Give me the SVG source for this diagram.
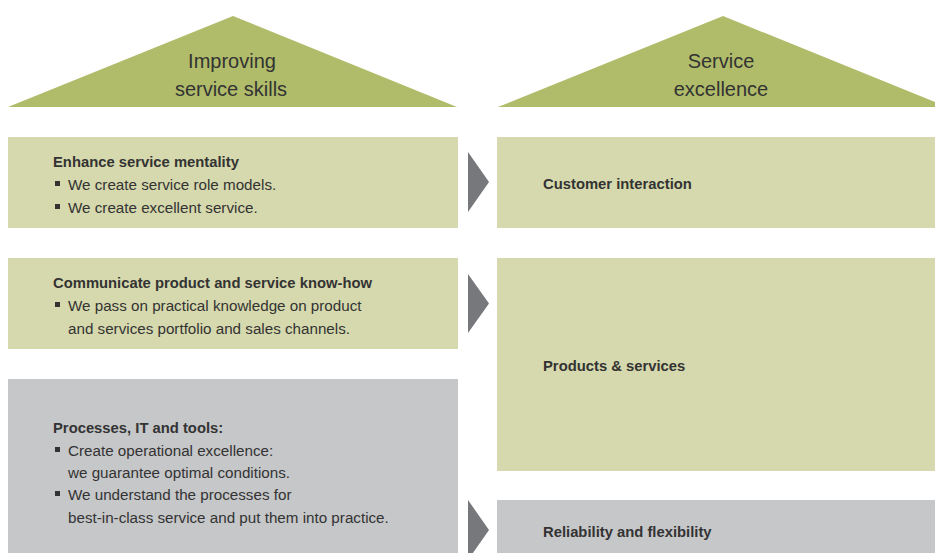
<svg xmlns="http://www.w3.org/2000/svg" width="935" height="553" viewBox="0 0 935 553">
<style>
.roof{fill:#b0bc6a}
.g{fill:#d6d9ad}
.gr{fill:#c6c7c9}
.arr{fill:#77787b}
.t{font-family:"Liberation Sans",Arial,sans-serif;fill:#333333}
.title{font-size:20px;text-anchor:middle;font-weight:300}
.h{font-size:14.8px;font-weight:bold}
.b{font-size:15.2px}
.bul{fill:#333333}
</style>
<g id="roof-left">
<polygon class="roof" points="8,107 233,16 457,107"/>
<text class="t title" x="232" y="68">Improving</text>
<text class="t title" x="231" y="96">service skills</text>
</g>
<g id="roof-right">
<polygon class="roof" points="498,107 723,16 935,102 935,107"/>
<text class="t title" x="721" y="68">Service</text>
<text class="t title" x="721" y="96">excellence</text>
</g>
<g id="box-mentality">
<rect class="g" x="8" y="137" width="450" height="91"/>
<text class="t h" x="53" y="167">Enhance service mentality</text>
<rect class="bul" x="55" y="181" width="5" height="5"/>
<text class="t b" x="68" y="190">We create service role models.</text>
<rect class="bul" x="55" y="204" width="5" height="5"/>
<text class="t b" x="68" y="213">We create excellent service.</text>
</g>
<g id="box-knowhow">
<rect class="g" x="8" y="258" width="450" height="91"/>
<text class="t h" x="53" y="288">Communicate product and service know-how</text>
<rect class="bul" x="55" y="302" width="5" height="5"/>
<text class="t b" x="68" y="311">We pass on practical knowledge on product</text>
<text class="t b" x="68" y="334">and services portfolio and sales channels.</text>
</g>
<g id="box-processes">
<rect class="gr" x="8" y="379" width="450" height="174"/>
<text class="t h" x="53" y="433">Processes, IT and tools:</text>
<rect class="bul" x="55" y="447" width="5" height="5"/>
<text class="t b" x="68" y="456">Create operational excellence:</text>
<text class="t b" x="68" y="478">we guarantee optimal conditions.</text>
<rect class="bul" x="55" y="491" width="5" height="5"/>
<text class="t b" x="68" y="500">We understand the processes for</text>
<text class="t b" x="68" y="523">best-in-class service and put them into practice.</text>
</g>
<g id="box-customer">
<rect class="g" x="497" y="137" width="438" height="91"/>
<text class="t h" x="543" y="189">Customer interaction</text>
</g>
<g id="box-products">
<rect class="g" x="497" y="258" width="438" height="213"/>
<text class="t h" x="543" y="371">Products &amp; services</text>
</g>
<g id="box-reliability">
<rect class="gr" x="497" y="500" width="438" height="53"/>
<text class="t h" x="543" y="537">Reliability and flexibility</text>
</g>
<g id="connectors">
<polygon class="arr" points="468,152 489,182 468,212"/>
<polygon class="arr" points="468,274 489,303.5 468,333"/>
<polygon class="arr" points="468,500 489,530 468,560"/>
</g>
</svg>
